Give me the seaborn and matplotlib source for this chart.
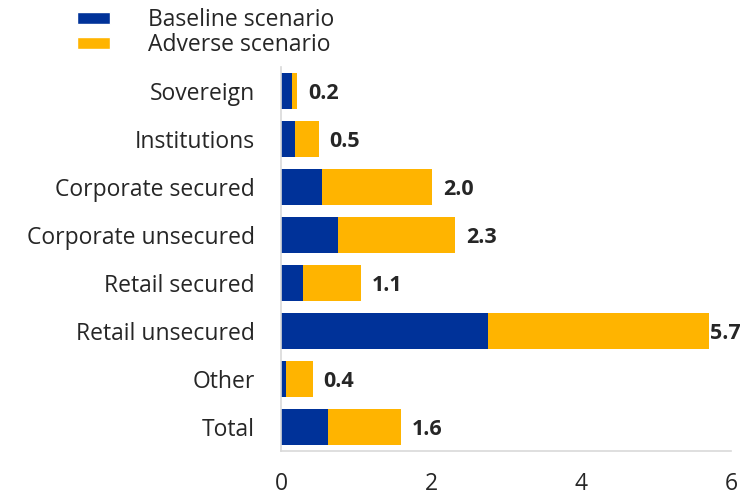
import matplotlib
matplotlib.use("Agg")
import matplotlib.pyplot as plt
import seaborn as sns
import pandas as pd
from matplotlib.patches import Patch

# data (percent)
categories = ["Sovereign", "Institutions", "Corporate secured", "Corporate unsecured",
              "Retail secured", "Retail unsecured", "Other", "Total"]
baseline = [0.14, 0.19, 0.55, 0.76, 0.29, 2.76, 0.06, 0.63]
adverse = [0.21, 0.50, 2.01, 2.32, 1.06, 5.71, 0.42, 1.60]
adverse_labels = ["0.2", "0.5", "2.0", "2.3", "1.1", "5.7", "0.4", "1.6"]

blue = "#003299"
orange = "#FFB400"

df = pd.DataFrame({"category": categories, "baseline": baseline, "adverse": adverse})

sns.set_style("white")
plt.rcParams["font.family"] = ["Open Sans", "DejaVu Sans"]

fig = plt.figure(figsize=(7.46, 4.97), dpi=100)
ax = fig.add_axes([0.3767, 0.0926, 0.6033, 0.7724])

sns.barplot(data=df, y="category", x="adverse", color=orange, width=0.75,
            saturation=1, linewidth=0, ax=ax, orient="h")
sns.barplot(data=df, y="category", x="baseline", color=blue, width=0.75,
            saturation=1, linewidth=0, ax=ax, orient="h")

# value labels at end of adverse bars
for i, (val, lab) in enumerate(zip(adverse, adverse_labels)):
    off = 0.5 if val == max(adverse) else 8
    ax.annotate(lab, xy=(val, i), xytext=(off, -2), textcoords="offset points",
                ha="left", va="center", fontsize=15.5, fontweight="bold", color="#262626",
                annotation_clip=False)

ax.set_xlim(0, 6)
ax.set_ylim(len(categories) - 0.5, -0.5)
ax.set_xticks([0, 2, 4, 6])
ax.set_xlabel("")
ax.set_ylabel("")
ax.tick_params(axis="y", length=0, pad=19, labelsize=16.5, labelcolor="#262626")
ax.tick_params(axis="x", length=0, pad=15, labelsize=16.5, labelcolor="#262626")

sns.despine(ax=ax, top=True, right=True)
for s in ["left", "bottom"]:
    ax.spines[s].set_color("#d9d9d9")
    ax.spines[s].set_linewidth(1.2)

handles = [Patch(facecolor=blue, label="Baseline scenario"),
           Patch(facecolor=orange, label="Adverse scenario")]
fig.legend(handles=handles, loc="upper left", bbox_to_anchor=(0.075, 1.025),
           frameon=False, fontsize=16.5, handlelength=1.45, handleheight=0.45,
           handletextpad=1.65, labelspacing=0.05, labelcolor="#262626")

fig.savefig("out.png", dpi=100)
